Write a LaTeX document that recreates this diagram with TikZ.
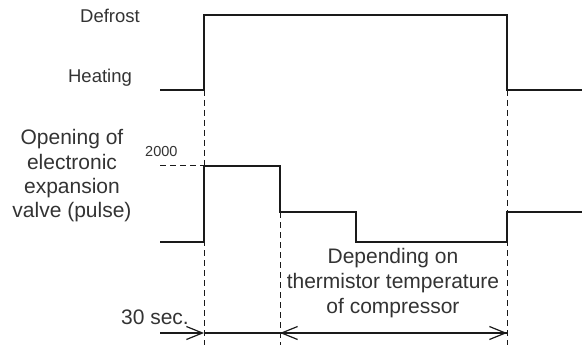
\documentclass[tikz,border=0pt]{standalone}
\usepackage{fontspec}
\setmainfont{Liberation Sans}
\usetikzlibrary{arrows.meta}
\definecolor{txt}{HTML}{333333}
\definecolor{ln}{HTML}{1A1A1A}
\begin{document}
\begin{tikzpicture}[x=1pt,y=-1pt,
  wave/.style={draw=ln,line width=1.3pt},
  guide/.style={draw=ln,line width=1pt,dash pattern=on 6pt off 4pt},
  dim/.style={draw=ln,line width=1.2pt},
  barb/.style={-{Straight Barb[length=16pt,width=13pt]}},
  lbl/.style={text=txt,inner sep=0pt,anchor=base,align=center,font=\fontsize{21}{24.5}\selectfont},
  state/.style={text=txt,inner sep=0pt,anchor=base,font=\fontsize{18.5}{22}\selectfont},
  small/.style={text=txt,inner sep=0pt,anchor=base west,font=\fontsize{14.5}{17}\selectfont}
]
\useasboundingbox (0,0) rectangle (582,345);
% key time coordinates
\coordinate (a0) at (160,90);
\coordinate (a1) at (204,90);
\coordinate (a2) at (204,15);
\coordinate (a3) at (507,15);
\coordinate (a4) at (507,90);
\coordinate (a5) at (582,90);
\coordinate (b0) at (160,242);
\coordinate (b1) at (204,242);
\coordinate (b2) at (204,166);
\coordinate (b3) at (280,166);
\coordinate (b4) at (280,212);
\coordinate (b5) at (356,212);
\coordinate (b6) at (356,242);
\coordinate (b7) at (507,242);
\coordinate (b8) at (507,212);
\coordinate (b9) at (582,212);
\coordinate (r0) at (160,166);
\coordinate (d1) at (204,345);
\coordinate (d2) at (280,345);
\coordinate (d3) at (507,345);
\coordinate (m0) at (160,333);
\coordinate (m1) at (204,333);
\coordinate (m2) at (280,333);
\coordinate (m3) at (507,333);
% waveforms
\draw[wave] (a0) -- (a1) -- (a2) -- (a3) -- (a4) -- (a5);
\draw[wave] (b0) -- (b1) -- (b2) -- (b3) -- (b4) -- (b5) -- (b6) -- (b7) -- (b8) -- (b9);
% guides
\draw[guide] (a1) -- (d1);
\draw[guide] (a4) -- (d3);
\draw[guide] (b4) -- (d2);
\draw[guide] (r0) -- (b2);
% dimension arrows
\draw[dim,barb] (m0) -- (m1);
\draw[dim] (m1) -- (m2);
\draw[dim,barb] (m2) -- (m3);
\draw[dim,barb] (m3) -- (m2);
% labels
\node[state] (defrost) at (110,23) {Defrost};
\node[state] (heating) at (100,83) {Heating};
\node[lbl] (opening) at (72,218) {Opening of\\electronic\\expansion\\valve (pulse)};
\node[small] (p2000) at (145,157) {2000};
\node[lbl,anchor=base east] (sec) at (189,324) {30 sec.};
\node[lbl,font=\fontsize{21}{25}\selectfont] (depend) at (393,313) {Depending on\\thermistor temperature\\of compressor};
\end{tikzpicture}
\end{document}
